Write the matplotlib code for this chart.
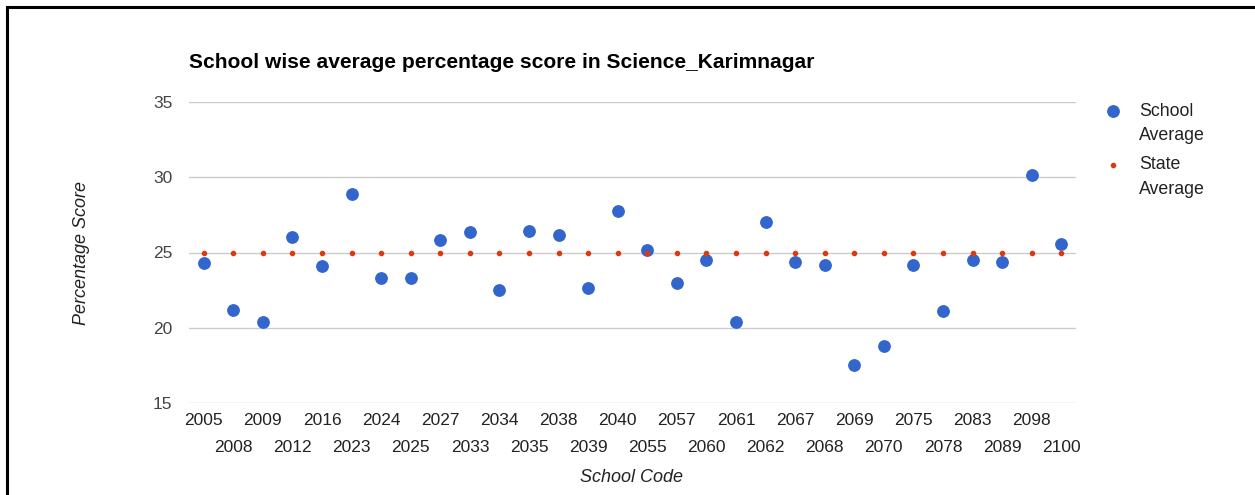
import matplotlib
matplotlib.use("Agg")
import matplotlib.pyplot as plt
from matplotlib.lines import Line2D
from matplotlib.patches import Rectangle

schools = ["2005", "2008", "2009", "2012", "2016", "2023", "2024", "2025", "2027", "2033",
           "2034", "2035", "2038", "2039", "2040", "2055", "2057", "2060", "2061", "2062",
           "2067", "2068", "2069", "2070", "2075", "2078", "2083", "2089", "2098", "2100"]
school_avg = [24.31, 21.17, 20.39, 26.02, 24.07, 28.90, 23.32, 23.32, 25.84, 26.35,
              22.50, 26.42, 26.15, 22.65, 27.77, 25.18, 22.98, 24.51, 20.35, 27.04,
              24.40, 24.18, 17.51, 18.82, 24.18, 21.10, 24.51, 24.36, 30.14, 25.58]
state_avg = [24.96] * len(schools)
y_ticks = [15, 20, 25, 30, 35]

BLUE = "#3366cc"
RED = "#dc3912"
FONT = "Liberation Sans"

W, H = 1255, 495
fig = plt.figure(figsize=(W / 100, H / 100), dpi=100)
ax = fig.add_axes([189 / W, 1 - 403 / H, (1076 - 189) / W, (403 - 102) / H])

x = list(range(len(schools)))
ax.plot(x, school_avg, linestyle="none", marker="o", markersize=8.2,
        color=BLUE, zorder=3)
ax.plot(x, state_avg, linestyle="none", marker="o", markersize=3.0,
        color=RED, zorder=4)

ax.set_xlim(-0.5, len(schools) - 0.5)
ax.set_ylim(15, 35)
ax.set_yticks(y_ticks)
ax.set_yticklabels([str(v) for v in y_ticks], fontfamily=FONT, fontsize=12.5, color="#444444")
ax.grid(axis="y", color="#cccccc", linewidth=1.0)
ax.set_axisbelow(True)
for s in ax.spines.values():
    s.set_visible(False)

even = x[0::2]
odd = x[1::2]
ax.set_xticks(even)
ax.set_xticklabels([schools[i] for i in even], fontfamily=FONT, fontsize=12.5, color="#222222")
ax.set_xticks(odd, minor=True)
ax.set_xticklabels([schools[i] for i in odd], minor=True, fontfamily=FONT, fontsize=12.5, color="#222222")
ax.tick_params(axis="x", which="major", length=0, pad=7.5)
ax.tick_params(axis="x", which="minor", length=0, pad=27)
ax.tick_params(axis="y", length=0, pad=12)

fig.text(632 / W, 1 - 478 / H, "School Code", ha="center", va="center",
         fontfamily=FONT, fontstyle="italic", fontsize=13, color="#222222")
fig.text(81 / W, 1 - 253 / H, "Percentage Score", ha="center", va="center", rotation=90,
         fontfamily=FONT, fontstyle="italic", fontsize=13, color="#222222")

fig.text(189 / W, 1 - 62 / H, "School wise average percentage score in Science_Karimnagar",
         ha="left", va="center", fontfamily=FONT, fontweight="bold", fontsize=15.1, color="#000000")

# legend
fig.add_artist(Line2D([1113 / W], [1 - 111 / H], marker="o", markersize=8.2, color=BLUE,
                      linestyle="none", transform=fig.transFigure))
fig.add_artist(Line2D([1113 / W], [1 - 165 / H], marker="o", markersize=3.0, color=RED,
                      linestyle="none", transform=fig.transFigure))
for ty, label in [(111, "School"), (135, "Average"), (165, "State"), (189, "Average")]:
    fig.text(1139 / W, 1 - ty / H, label, ha="left", va="center",
             fontfamily=FONT, fontsize=12.8, color="#222222")

# outer frame
fig.add_artist(Rectangle((7 / W, -0.1), 1.1, 1 - 7 / H + 0.1, transform=fig.transFigure,
                         fill=False, edgecolor="black", linewidth=2.2))

fig.savefig("out.png", dpi=100)
